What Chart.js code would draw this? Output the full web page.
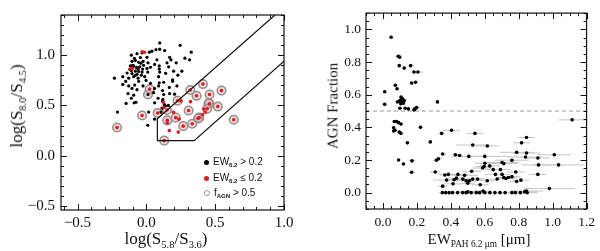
<!DOCTYPE html>
<html>
<head>
<meta charset="utf-8">
<script src="https://cdn.jsdelivr.net/npm/chart.js@4.4.1/dist/chart.umd.min.js"></script>
<style>
  body { margin: 0; background: #fff; width: 600px; height: 251px; overflow: hidden; position: relative; }
  .panel { position: absolute; top: 0; width: 300px; height: 251px; }
  .lbl { position: absolute; font-family: "Liberation Serif", serif; color: #111; white-space: nowrap; transform: translate(-50%, -50%); }
  .rot { transform: translate(-50%, -50%) rotate(-90deg); }
  sub { font-size: 0.62em; vertical-align: -0.35em; line-height: 0; }
  .legend { position: absolute; left: 204px; top: 154px; font-family: "Liberation Sans", sans-serif; font-size: 10px; color: #111; }
  .legend div { height: 15.5px; line-height: 15px; white-space: nowrap; }
  .legend i { display: inline-block; width: 5px; height: 5px; border-radius: 50%; margin-right: 4px; vertical-align: 0; }
  .legend sub { font-size: 0.6em; font-weight: bold; }
</style>
</head>
<body>
<div class="panel" style="left:0"><canvas id="left" width="300" height="251"></canvas></div>
<div class="panel" style="left:300px"><canvas id="right" width="300" height="251"></canvas></div>

<div class="lbl" style="left:166px; top:239px; font-size:17px">log(S<sub>5.8</sub>/S<sub>3.6</sub>)</div>
<div class="lbl rot" style="left:17px; top:106px; font-size:17px">log(S<sub>8.0</sub>/S<sub>4.5</sub>)</div>
<div class="lbl" style="left:479px; top:239px; font-size:15px">EW<sub>PAH 6.2 μm</sub> [μm]</div>
<div class="lbl rot" style="left:333px; top:106px; font-size:15px">AGN Fraction</div>

<div class="legend">
  <div><i style="background:#000"></i>EW<sub>6.2</sub> &gt; 0.2</div>
  <div><i style="background:#e0191b"></i>EW<sub>6.2</sub> ≤ 0.2</div>
  <div><i style="border:1px solid #999; width:4px; height:4px"></i>f<sub>AGN</sub> &gt; 0.5</div>
</div>

<script>
// left panel: IRAC colours
const blackX = [0.097, 0.246, 0.070, 0.097, 0.041, 0.022, 0.133, 0.326, -0.109, -0.068, -0.031, -0.087, -0.043, 0.005, 0.169, 0.077, 0.179, 0.314,
  -0.104, -0.080, -0.056, -0.024, 0.012, 0.060, 0.094, 0.150, 0.217, -0.116, -0.092, -0.072, -0.048, -0.027, 0.005, 0.094, 0.162,
  -0.109, -0.080, -0.056, -0.031, 0.010, -0.140, -0.104, -0.068, -0.036, 0.097, 0.198, 0.258, 0.229, -0.171, -0.092, -0.012, 0.089,
  -0.232, -0.128, -0.060, -0.056, -0.002, 0.191, -0.171, -0.128, -0.085, -0.024, 0.089, 0.126, -0.104, -0.068, 0.060, 0.118, 0.167,
  0.222, -0.133, -0.092, 0.053, 0.126, 0.169, -0.109, 0.085, -0.147, -0.089, -0.075, 0.118, 0.060, 0.130, -0.210, 0.017, 0.114,
  0.060, 0.010, 0.106, 0.138, 0.094, 0.191, 0.205, 0.012, -0.100, -0.060, -0.020, -0.120, -0.040, -0.080, 0.030, -0.150, 0.030,
  0.140, 0.280, 0.120, 0.160];
const blackY = [1.122, 1.098, 1.055, 1.060, 1.040, 1.030, 1.046, 1.030, 1.000, 1.015, 1.024, 0.969, 0.976, 0.979, 0.979, 0.954, 0.954, 0.954,
  0.939, 0.948, 0.930, 0.939, 0.924, 0.908, 0.893, 0.924, 0.924, 0.893, 0.893, 0.878, 0.884, 0.862, 0.868, 0.862, 0.884,
  0.847, 0.841, 0.838, 0.832, 0.832, 0.823, 0.817, 0.810, 0.801, 0.832, 0.841, 0.841, 0.801, 0.786, 0.786, 0.786, 0.786,
  0.771, 0.771, 0.771, 0.740, 0.749, 0.755, 0.709, 0.694, 0.703, 0.694, 0.694, 0.731, 0.670, 0.657, 0.670, 0.648, 0.679,
  0.694, 0.618, 0.602, 0.627, 0.609, 0.618, 0.572, 0.572, 0.520, 0.526, 0.532, 0.541, 0.526, 0.510, 0.434, 0.434, 0.474,
  0.364, 0.303, 0.434, 0.495, 0.725, 0.740, 0.612, 0.609, 0.900, 0.860, 0.900, 0.860, 0.920, 0.800, 0.880, 0.740, 0.720,
  0.820, 0.970, 0.560, 0.500];
const redX = [-0.213, -0.031, 0.024, 0.082, 0.152, 0.130, 0.213, 0.227, 0.268, 0.307, 0.319, 0.333, 0.365, 0.384, 0.411, 0.459, 0.459,
  0.442, 0.519, 0.546, 0.635, 0.376, 0.150,
  0.123, 0.198, 0.237, 0.167, 0.232, 0.321, 0.251, 0.418, 0.428, 0.408, 0.152, 0.128, -0.014, -0.030, -0.116, -0.100];
const redY = [0.281, 0.400, 0.664, 0.425, 0.352, 0.150, 0.379, 0.547, 0.294, 0.450, 0.654, 0.318, 0.596, 0.379, 0.713, 0.609, 0.517,
  0.468, 0.489, 0.648, 0.358, 0.372, 0.455,
  0.532, 0.431, 0.364, 0.250, 0.235, 0.538, 0.544, 0.465, 0.434, 0.410, 0.327, 0.480, 1.030, 1.035, 0.862, 0.870];
// f_AGN > 0.5
const ringX = [-0.213, -0.031, 0.012, 0.024, 0.082, 0.152, 0.130, 0.213, 0.227, 0.268, 0.307, 0.319, 0.333, 0.365, 0.384, 0.411, 0.459,
  0.459, 0.452, 0.442, 0.519, 0.546, 0.635, 0.376, 0.150];
const ringY = [0.281, 0.400, 0.609, 0.664, 0.425, 0.352, 0.150, 0.379, 0.547, 0.294, 0.450, 0.654, 0.318, 0.596, 0.379, 0.713, 0.609,
  0.517, 0.525, 0.468, 0.489, 0.648, 0.358, 0.372, 0.455];
// AGN wedge outline
const wedgeX = [0.934, 0.08, 0.08, 0.347, 1.0];
const wedgeY = [1.4, 0.367, 0.15, 0.15, 0.94];

// right panel: EW(PAH 6.2um) vs AGN fraction
const ewX = [0.048, 0.090, 0.098, 0.096, 0.125, 0.163, 0.183, 0.206, 0.169, 0.192, 0.073, 0.083, 0.010, 0.010,
  0.107, 0.115, 0.100, 0.125, 0.110, 0.095, 0.085, 0.120, 0.105, 0.100, 0.131, 0.150, 0.188, 0.198, 0.183, 0.321,
  0.067, 0.081, 0.092, 0.106, 0.063, 0.071, 0.096, 0.106, 0.063, 0.221, 0.144, 0.279, 0.346, 0.404,
  0.092, 0.121, 0.171, 0.169, 0.308, 0.315, 0.327, 0.352, 0.365, 0.352, 0.427, 0.452, 0.506, 0.529, 0.542, 0.615, 0.600,
  0.702, 0.712, 0.760, 0.783, 0.788, 0.817, 0.840, 0.846, 0.846, 0.913, 0.917, 0.913, 0.981, 1.010, 1.035, 1.115,
  0.385, 0.375, 0.413, 0.419, 0.433, 0.442, 0.471, 0.490, 0.510, 0.529, 0.481, 0.500, 0.523, 0.558, 0.573, 0.587, 0.596,
  0.600, 0.615, 0.629, 0.650, 0.663, 0.673, 0.692, 0.702, 0.712, 0.725, 0.740, 0.760, 0.788, 0.813,
  0.350, 0.370, 0.390, 0.410, 0.440, 0.470, 0.490, 0.500, 0.520, 0.550, 0.570, 0.590, 0.600, 0.630, 0.660, 0.690,
  0.720, 0.760, 0.780, 0.810, 0.835, 0.845, 0.850];
const agnY = [0.952, 0.836, 0.830, 0.778, 0.763, 0.778, 0.739, 0.739, 0.672, 0.676, 0.658, 0.637, 0.618, 0.541,
  0.585, 0.575, 0.565, 0.565, 0.555, 0.560, 0.555, 0.548, 0.545, 0.517, 0.517, 0.513, 0.513, 0.521, 0.506, 0.556,
  0.436, 0.436, 0.429, 0.421, 0.398, 0.382, 0.371, 0.363, 0.378, 0.401, 0.305, 0.311, 0.363, 0.382,
  0.200, 0.176, 0.195, 0.125, 0.127, 0.199, 0.208, 0.237, 0.108, 0.040, 0.232, 0.228, 0.222, 0.292, 0.363, 0.286, 0.222,
  0.185, 0.178, 0.199, 0.127, 0.247, 0.305, 0.218, 0.243, 0.338, 0.212, 0.170, 0.112, 0.025, 0.232, 0.170, 0.446,
  0.112, 0.077, 0.054, 0.079, 0.089, 0.112, 0.083, 0.073, 0.073, 0.083, 0.106, 0.058, 0.131, 0.083, 0.048, 0.151, 0.160,
  0.180, 0.073, 0.164, 0.141, 0.112, 0.083, 0.141, 0.112, 0.093, 0.087, 0.093, 0.098, 0.068, 0.077,
  0, 0, 0, 0, 0, 0, 0, 0.005, 0, 0, 0, 0.01, 0, 0, 0, 0,
  0, 0, 0, 0, 0.005, 0.01, 0];
const ewErr = [0.005, 0.01, 0.01, 0.01, 0.01, 0.02, 0.02, 0.03, 0.01, 0.01, 0.01, 0.01, 0.01, 0.01,
  0.01, 0.01, 0.01, 0.01, 0.01, 0.01, 0.01, 0.01, 0.01, 0.01, 0.01, 0.01, 0.02, 0.02, 0.01, 0.005,
  0.01, 0.01, 0.01, 0.01, 0.01, 0.01, 0.01, 0.01, 0.01, 0.01, 0.01, 0.01, 0.02, 0.05,
  0.01, 0.01, 0.02, 0.02, 0.03, 0.01, 0.02, 0.02, 0.03, 0.03, 0.02, 0.01, 0.10, 0.10, 0.05, 0.07, 0.15,
  0.10, 0.08, 0.10, 0.05, 0.10, 0.05, 0.10, 0.08, 0.05, 0.07, 0.10, 0.05, 0.15, 0.10, 0.15, 0.08,
  0.06, 0.08, 0.05, 0.04, 0.05, 0.06, 0.05, 0.06, 0.05, 0.06, 0.08, 0.04, 0.06, 0.05, 0.05, 0.06, 0.05,
  0.06, 0.05, 0.06, 0.05, 0.06, 0.05, 0.06, 0.05, 0.04, 0.05, 0.06, 0.05, 0.04, 0.05,
  0.02, 0.03, 0.03, 0.04, 0.05, 0.04, 0.05, 0.06, 0.05, 0.06, 0.05, 0.06, 0.05, 0.06, 0.05, 0.06,
  0.05, 0.06, 0.05, 0.06, 0.08, 0.10, 0.06];
const agnCut = 0.5;

const pts = (xs, ys) => xs.map((x, i) => ({ x, y: ys[i] }));

// inward box ticks in IDL style
const frameTicks = {
  id: 'frameTicks',
  afterDraw(chart, args, o) {
    const { ctx, chartArea: a, scales } = chart;
    ctx.save();
    ctx.strokeStyle = '#111';
    ctx.lineWidth = 1.2;
    ctx.strokeRect(a.left, a.top, a.right - a.left, a.bottom - a.top);
    ctx.lineWidth = 1;
    const marks = (scale, step, len) => {
      for (let i = Math.ceil(scale.min / step - 1e-6); i * step <= scale.max + 1e-9; i++) {
        const p = Math.round(scale.getPixelForValue(i * step)) + 0.5;
        ctx.beginPath();
        if (scale.isHorizontal()) {
          ctx.moveTo(p, a.bottom); ctx.lineTo(p, a.bottom - len);
          ctx.moveTo(p, a.top); ctx.lineTo(p, a.top + len);
        } else {
          ctx.moveTo(a.left, p); ctx.lineTo(a.left + len, p);
          ctx.moveTo(a.right, p); ctx.lineTo(a.right - len, p);
        }
        ctx.stroke();
      }
    };
    marks(scales.x, o.xMajor, 6); marks(scales.x, o.xMinor, 3);
    marks(scales.y, o.yMajor, 6); marks(scales.y, o.yMinor, 3);
    ctx.restore();
  }
};

const fmt = v => Math.abs(v) < 1e-9 ? '0.0' : (v < 0 ? '\u2212' + Math.abs(v).toFixed(1) : v.toFixed(1));

function axis(min, max, step, size, fontSize, pad, horiz) {
  return {
    type: 'linear', min, max,
    grid: { display: false, drawTicks: false }, border: { display: false },
    ticks: { stepSize: step, includeBounds: false, padding: pad, color: '#111', callback: fmt,
      maxRotation: 0, autoSkip: false, font: { family: 'Liberation Serif', size: fontSize } },
    afterFit: s => { if (horiz) s.height = size; else s.width = size; }
  };
}

const common = {
  responsive: false, animation: false, devicePixelRatio: 1,
  events: []
};

new Chart(document.getElementById('left'), {
  type: 'scatter',
  data: {
    datasets: [
      { data: pts(wedgeX, wedgeY), showLine: true, borderColor: '#111', borderWidth: 1.2, pointRadius: 0, order: 0 },
      { data: pts(redX, redY), backgroundColor: '#e0191b', borderWidth: 0, pointRadius: 1.8, order: 1 },
      { data: pts(blackX, blackY), backgroundColor: '#000', borderWidth: 0, pointRadius: 1.6, order: 2 },
      { data: pts(ringX, ringY), backgroundColor: 'rgba(215,190,190,0.55)', borderColor: '#9a8a8a', borderWidth: 1.5, pointRadius: 4.3, order: 3 }
    ]
  },
  options: {
    ...common,
    layout: { padding: { top: 3, right: 16, left: 0, bottom: 0 } },
    scales: {
      x: axis(-0.62, 1.0, 0.5, 41, 15, 4, true),
      y: axis(-0.54, 1.4, 0.5, 61, 15, 6, false)
    },
    plugins: { legend: { display: false }, tooltip: { enabled: false },
      frameTicks: { xMajor: 0.5, xMinor: 0.1, yMajor: 0.5, yMinor: 0.1 } }
  },
  plugins: [frameTicks]
});

// error bars as one broken line
const errData = [];
ewX.forEach((x, i) => {
  errData.push({ x: x - ewErr[i], y: agnY[i] }, { x: x + ewErr[i], y: agnY[i] }, { x: x, y: null });
});

new Chart(document.getElementById('right'), {
  type: 'scatter',
  data: {
    datasets: [
      { data: pts(ewX, agnY), backgroundColor: '#000', borderWidth: 0, pointRadius: 1.8, order: 0 },
      { data: errData, showLine: true, spanGaps: false, borderColor: '#c4c4c4', borderWidth: 1, pointRadius: 0, order: 1 },
      { data: [{ x: -0.1, y: agnCut }, { x: 1.2, y: agnCut }], showLine: true, borderColor: '#9a9a9a', borderWidth: 1,
        borderDash: [4, 3], pointRadius: 0, order: 2 }
    ]
  },
  options: {
    ...common,
    layout: { padding: { top: 3, right: 9, left: 0, bottom: 0 } },
    scales: {
      x: axis(-0.1, 1.2, 0.2, 42, 13.5, 5, true),
      y: axis(-0.1001, 1.1, 0.2, 66, 13.5, 5, false)
    },
    plugins: { legend: { display: false }, tooltip: { enabled: false },
      frameTicks: { xMajor: 0.2, xMinor: 0.05, yMajor: 0.2, yMinor: 0.05 } }
  },
  plugins: [frameTicks]
});
</script>
</body>
</html>
